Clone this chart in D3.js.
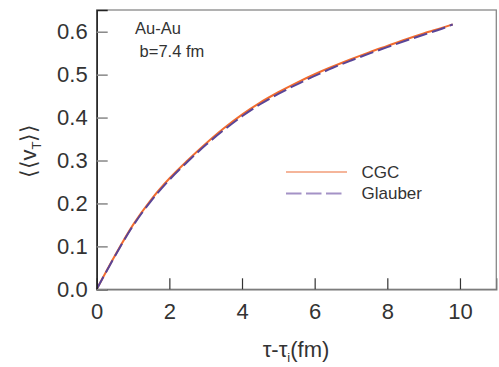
<!DOCTYPE html>
<html>
<head>
<meta charset="utf-8">
<script src="https://cdn.jsdelivr.net/npm/d3@7"></script>
<style>
  html, body { margin: 0; padding: 0; background: #fff; }
  text { font-family: "Liberation Sans", Arial, sans-serif; fill: #333; }
</style>
</head>
<body>
<svg id="chart" width="499" height="367"></svg>
<script>
// ---- data ----
const tau = [0, 0.5, 1.0, 1.5, 2.0, 2.5, 3.0, 3.5, 4.0, 4.5, 5.0, 5.5, 6.0, 6.5, 7.0, 7.5, 8.0, 8.5, 9.0, 9.5, 9.8];
const cgc = [0, 0.078, 0.150, 0.209, 0.258, 0.300, 0.339, 0.375, 0.407, 0.435, 0.459, 0.481, 0.501, 0.519, 0.536, 0.552, 0.567, 0.582, 0.596, 0.609, 0.617];
const glauber = [0, 0.077, 0.148, 0.206, 0.255, 0.297, 0.336, 0.371, 0.403, 0.431, 0.455, 0.477, 0.497, 0.516, 0.533, 0.549, 0.564, 0.579, 0.593, 0.607, 0.617];
const xTicks = [0, 2, 4, 6, 8, 10];
const yTicks = [0.0, 0.1, 0.2, 0.3, 0.4, 0.5, 0.6];
const seriesNames = ["CGC", "Glauber"];
const annotation = ["Au-Au", " b=7.4 fm"];

// ---- layout ----
const svg = d3.select("#chart");
const L = 96.7, R = 496.3, T = 10, B = 289.3;
const x = d3.scaleLinear().domain([0, 11]).range([L, R]);
const y = d3.scaleLinear().domain([0, 0.6506]).range([B, T]);

// frame (top/right)
svg.append("rect").attr("x", L).attr("y", T).attr("width", R - L).attr("height", B - T)
  .attr("fill", "none").attr("stroke", "#888").attr("stroke-width", 1.3);

// curves
const line = d3.line().x((d, i) => x(tau[i])).y(d => y(d)).curve(d3.curveMonotoneX);
svg.append("path").datum(cgc).attr("d", line).attr("fill", "none")
  .attr("stroke", "#f26c2e").attr("stroke-width", 2);
svg.append("path").datum(glauber).attr("d", line).attr("fill", "none")
  .attr("stroke", "#5a4597").attr("stroke-width", 2).attr("stroke-dasharray", "14,5");

// axes
const xAxis = d3.axisBottom(x).tickValues(xTicks).tickSize(-11).tickPadding(14).tickFormat(d3.format("d"));
const gx = svg.append("g").attr("transform", `translate(0,${B})`).call(xAxis);
gx.select(".domain").attr("stroke", "#777").attr("stroke-width", 1.3);
gx.selectAll(".tick line").attr("stroke", "#333").attr("stroke-width", 1.2);
gx.selectAll(".tick text").attr("font-size", 22).attr("fill", "#333")
  .attr("font-family", "Liberation Sans, Arial, sans-serif");

const yAxis = d3.axisLeft(y).tickValues(yTicks).tickSize(-11).tickPadding(9).tickFormat(d3.format(".1f"));
const gy = svg.append("g").attr("transform", `translate(${L},0)`).call(yAxis);
gy.select(".domain").attr("stroke", "#222").attr("stroke-width", 1.5);
gy.selectAll(".tick line").attr("stroke", "#888").attr("stroke-width", 1.5);
gy.selectAll(".tick text").attr("font-size", 22).attr("fill", "#333")
  .attr("font-family", "Liberation Sans, Arial, sans-serif");

// axis titles
const xt = svg.append("text").attr("x", 296).attr("y", 357).attr("text-anchor", "middle").attr("font-size", 22);
xt.append("tspan").text("τ-τ");
xt.append("tspan").attr("font-size", 13).attr("dy", 5).text("i");
xt.append("tspan").attr("dy", -5).text("(fm)");

const yt = svg.append("text").attr("transform", "translate(36,151) rotate(-90)").attr("text-anchor", "middle")
  .attr("font-size", 22).attr("font-family", "DejaVu Sans, sans-serif");
yt.append("tspan").text("⟨⟨v");
yt.append("tspan").attr("font-size", 13).attr("dy", 5).text("T");
yt.append("tspan").attr("dy", -5).text("⟩⟩");

// annotation
svg.append("text").attr("x", 135).attr("y", 34).attr("font-size", 16.5).text(annotation[0]);
svg.append("text").attr("x", 135).attr("y", 57).attr("font-size", 16.5).attr("xml:space", "preserve").text(annotation[1]);

// legend
const legColors = ["#f5b59a", "#a492c6"];
const legY = [172, 193.5];
seriesNames.forEach((n, i) => {
  svg.append("line").attr("x1", 286).attr("x2", i === 0 ? 347 : 342).attr("y1", legY[i]).attr("y2", legY[i])
    .attr("stroke", legColors[i]).attr("stroke-width", 1.8)
    .attr("stroke-dasharray", i === 1 ? "15.5,4.5" : null);
  svg.append("text").attr("x", 361.5).attr("y", legY[i] + 5.5).attr("font-size", 17).text(n);
});
</script>
</body>
</html>
